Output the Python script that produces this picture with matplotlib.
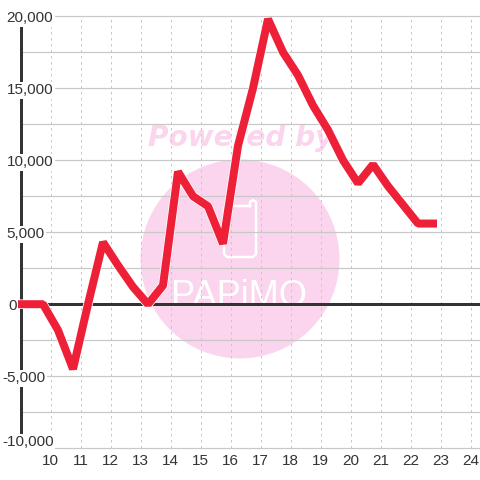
import matplotlib
matplotlib.use("Agg")
from matplotlib import pyplot as plt
from matplotlib.patches import Circle
from matplotlib.patheffects import Stroke, Normal

hours = [8.75, 9.25, 9.75, 10.25, 10.75, 11.25, 11.75, 12.25, 12.75, 13.25, 13.75,
         14.25, 14.75, 15.25, 15.75, 16.25, 16.75, 17.25, 17.75, 18.25, 18.75,
         19.25, 19.75, 20.25, 20.75, 21.25, 21.75, 22.25, 22.75]
values = [0, 0, 0, -1800, -4500, 0, 4300, 2700, 1200, 0, 1300,
          9200, 7500, 6800, 4200, 11000, 15000, 19800, 17500, 15900, 13800,
          12100, 10000, 8400, 9700, 8200, 6900, 5600, 5600]

x_ticks = list(range(10, 25))
y_ticks = [20000, 15000, 10000, 5000, 0, -5000, -10000]
y_minor = [17500, 12500, 7500, 2500, -2500, -7500]

DARK = "#333333"
GRID = "#c8c8c8"
PINK = "#fbd5ee"
RED = "#ee2038"
px = 72 / 100  # line widths are in pixels at dpi 100

fig = plt.figure(figsize=(4.8, 4.8), dpi=100, facecolor="white")

# watermark sits under the chart, in pixel coordinates
bg = fig.add_axes([0, 0, 1, 1])
bg.set_xlim(0, 480)
bg.set_ylim(480, 0)
bg.axis("off")
bg.add_patch(Circle((240, 259), 99.5, color=PINK, lw=0))
bg.text(240.5, 146, "Powered by", color=PINK, fontsize=20.2, fontweight="bold", fontstyle="italic",
        family="DejaVu Sans", ha="center", va="baseline")
bg.plot([250, 226, 224, 224, 227, 253, 256, 256, 253, 250, 250],
        [206, 206, 208, 254, 257, 257, 254, 202, 200, 202, 206],
        color="white", lw=2.5 * px, solid_joinstyle="round")
bg.text(239.5, 306, "PAPiMO", color="white", fontsize=26, family="Liberation Sans",
        ha="center", va="baseline")

# full figure axes, scale set so that the ticks land on the reference pixels
ax = fig.add_axes([0, 0, 1, 1])
ax.patch.set_alpha(0)
ax.axis("off")
ax.set_xlim(10 - 50.5 / 30, 10 + 429.5 / 30)
ax.set_ylim(-10000 - (480 - 448.2) * 5000 / 72, 20000 + 16.2 * 5000 / 72)
x_end = ax.get_xlim()[1]

ax.hlines(y_ticks + y_minor, 9, x_end, color=GRID, lw=1.2 * px, zorder=1)
ax.vlines(x_ticks, -10000, 20000, color=GRID, lw=1 * px, linestyles=(0, (2.5, 3.5)), zorder=1)
ax.hlines(0, 9, x_end, color=DARK, lw=3 * px, zorder=2)
ax.vlines(9, -10000, 20000, color=DARK, lw=3 * px, zorder=2)

ax.plot(hours, values, color=RED, lw=8 * px, solid_joinstyle="bevel", solid_capstyle="projecting", zorder=3,
        path_effects=[Stroke(linewidth=9.5 * px, foreground="white"), Normal()])

label_box = dict(facecolor="white", edgecolor="none", pad=1.2)
for v in y_ticks:
    text = f"{v:,}"
    x_px = 2 if v < 0 else 6.5
    if v == 0:
        x_px = 8
    y = v - 2 * 5000 / 72
    if v == -10000:
        y = v + 6 * 5000 / 72
    ax.text(10 + (x_px - 50.5) / 30, y, text, color=DARK, fontsize=11, family="Liberation Sans",
            ha="left", va="center", bbox=label_box, zorder=4)

for h in x_ticks:
    ax.text(h, -10000 - 13 * 5000 / 72, str(h), color=DARK, fontsize=11, family="Liberation Sans",
            ha="center", va="center", zorder=4)

fig.savefig("out.png", dpi=100)
